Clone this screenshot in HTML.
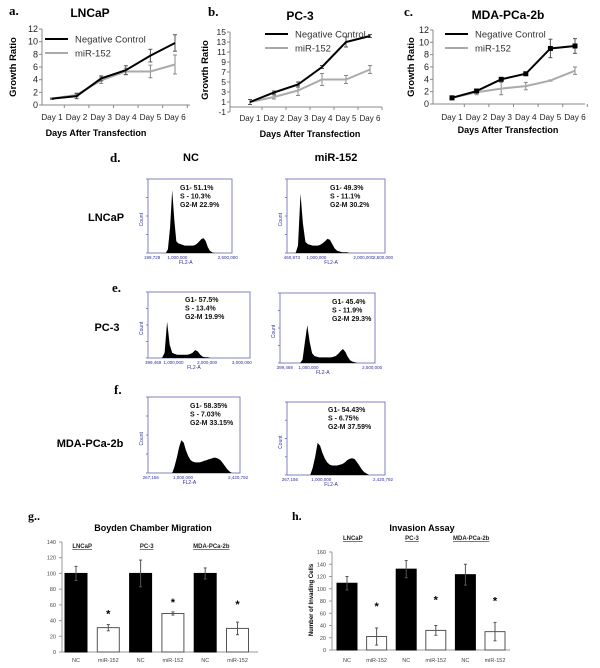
<!DOCTYPE html>
<html><head><meta charset="utf-8">
<style>
body{margin:0;background:#fff;}
svg{display:block;font-family:"Liberation Sans",sans-serif;}
</style></head>
<body>
<svg id="fig" width="600" height="668" viewBox="0 0 600 668" xmlns="http://www.w3.org/2000/svg"></svg>
<script>
// ---------- DATA ----------
const days = ["Day 1","Day 2","Day 3","Day 4","Day 5","Day 6"];
const lncapNC = [1,1.4,4.2,5.5,7.8,9.8];
const lncapNCerr = [0.1,0.4,0.4,0.7,1.0,1.3];
const lncapMiR = [1,1.6,3.9,5.3,5.3,6.4];
const lncapMiRerr = [0.1,0.3,0.5,0.5,1.0,1.5];
const pc3NC = [1,2.9,4.5,8,13,14.2];
const pc3NCerr = [0.5,0.3,0.5,0.3,1.0,0.3];
const pc3MiR = [1,2,3.3,5.5,5.5,7.5];
const pc3MiRerr = [0.5,0.4,1.0,1.2,0.8,0.8];
const mdaNC = [1,2.1,4,4.9,9,9.4];
const mdaNCerr = [0.3,0.3,0.2,0.2,1.5,1.2];
const mdaMiR = [1,1.9,2.5,2.9,3.8,5.4];
const mdaMiRerr = [0.3,0.4,1.0,0.6,0.1,0.6];
const ticksA = [0,2,4,6,8,10,12];
const ticksB = [-1,1,3,5,7,9,11,13,15];
const ticksC = [0,2,4,6,8,10,12];

const histDNC = [0,0,0,0,0,0,0,0,0,0.05,0.35,0.85,0.45,0.16,0.13,0.12,0.11,0.1,0.1,0.1,0.1,0.1,0.11,0.13,0.16,0.19,0.2,0.16,0.08,0.03,0.01,0,0,0,0,0,0,0,0,0];
const histDMiR = [0,0,0,0,0.1,0.8,0.4,0.15,0.12,0.11,0.1,0.1,0.1,0.11,0.13,0.16,0.19,0.18,0.12,0.06,0.03,0.02,0.01,0.01,0.01,0,0,0,0,0,0,0,0,0,0,0,0,0,0,0];
const histENC = [0,0,0,0,0,0,0.08,0.55,0.2,0.08,0.06,0.05,0.05,0.05,0.05,0.05,0.06,0.08,0.12,0.1,0.05,0.02,0.01,0.01,0,0,0,0,0,0,0,0,0,0,0,0,0,0,0,0];
const histEMiR = [0,0,0,0,0,0,0,0,0,0.05,0.3,0.54,0.3,0.14,0.1,0.09,0.08,0.08,0.08,0.08,0.08,0.08,0.09,0.1,0.13,0.17,0.2,0.16,0.09,0.04,0.02,0.01,0,0,0,0,0,0,0,0];
const histFNC = [0,0,0,0,0,0,0,0,0,0,0,0.08,0.2,0.34,0.43,0.4,0.3,0.22,0.17,0.15,0.14,0.14,0.14,0.15,0.16,0.17,0.18,0.19,0.2,0.2,0.19,0.17,0.13,0.09,0.05,0.02,0,0,0,0];
const histFMiR = [0,0,0,0,0,0,0,0,0,0,0.1,0.25,0.44,0.4,0.3,0.22,0.17,0.14,0.13,0.13,0.13,0.14,0.15,0.17,0.2,0.22,0.23,0.22,0.18,0.13,0.08,0.04,0.02,0,0,0,0,0,0,0];

const barCats = ["NC","miR-152","NC","miR-152","NC","miR-152"];
const migVals = [100,31,100,49,100,30];
const migErr = [9,4,17,2,7,8];
const migTicks = [0,20,40,60,80,100,120,140];
const invVals = [109,22,132,32,123,30];
const invErr = [11,14,14,8,17,15];
const invTicks = [0,20,40,60,80,100,120,140,160];
const groups = ["LNCaP","PC-3","MDA-PCa-2b"];

// ---------- HELPERS ----------
const svg = document.getElementById('fig');
const NS = 'http://www.w3.org/2000/svg';
function mk(tag, attrs, parent){
  const el = document.createElementNS(NS, tag);
  for (const k in attrs) el.setAttribute(k, attrs[k]);
  (parent||svg).appendChild(el);
  return el;
}
function txt(s, attrs, parent){
  const el = mk('text', attrs, parent);
  el.textContent = s;
  return el;
}

// ---------- LINE CHARTS ----------
function lineChart(c){
  const g = mk('g', {});
  
  
  const X = i => c.x1 + i*c.step;
  const Y = v => c.y0 - (v - c.base)*c.ppu;
  let t = txt(c.letter, {x:c.lx, y:c.ly, 'font-family':'Liberation Serif,serif','font-weight':'bold','font-size':13}, g);
  
  
  t = txt(c.title, {x:c.tx, y:c.ty, 'text-anchor':'middle','font-weight':'bold','font-size':12}, g);
  
  
  const yTop = Y(c.ticks[c.ticks.length-1]), yBot = Y(c.ticks[0]);
  let a = mk('line', {x1:c.ax, y1:yTop, x2:c.ax, y2:yBot, stroke:'#888','stroke-width':1}, g);
  
  
  a = mk('line', {x1:c.ax, y1:Y(c.xAxisAt), x2:c.ax2, y2:Y(c.xAxisAt), stroke:'#888','stroke-width':1}, g);
  
  
  c.ticks.forEach(v=>{
    mk('line',{x1:c.ax-3,y1:Y(v),x2:c.ax,y2:Y(v),stroke:'#888'},g);
    const tl = txt(String(v), {x:c.ax-4, y:Y(v)+3, 'text-anchor':'end','font-size':c.tfs||9,fill:'#222'}, g);
    
    
  });
  days.forEach((d,i)=>{
    mk('line',{x1:X(i)+c.step/2,y1:Y(c.xAxisAt),x2:X(i)+c.step/2,y2:Y(c.xAxisAt)+3,stroke:'#888'},g);
    const tl = txt(d, {x:X(i), y:c.dayY, 'text-anchor':'middle','font-size':8.5,fill:'#222',textLength:c.step-3,lengthAdjust:'spacingAndGlyphs'}, g);
    
    
  });
  t = txt('Growth Ratio', {x:0,y:0,'font-weight':'bold','font-size':9.5,'text-anchor':'middle',transform:`translate(${c.ylx},${c.yly}) rotate(-90)`}, g);
  
  
  t = txt('Days After Transfection', {x:c.xtx,y:c.xty,'font-weight':'bold','font-size':9,'text-anchor':'middle'}, g);
  
  
  [[c.mir,c.mirErr,'#aaa','mir-152-series'],[c.nc,c.ncErr,'#000','negative-control-series']].forEach(([vals,errs,col,nm])=>{
    const sg = mk('g',{},g);
    
    
    const ec = col==='#000'?'#555':'#888';
    vals.forEach((v,i)=>{
      const e = errs[i];
      mk('line',{x1:X(i),y1:Y(v+e),x2:X(i),y2:Y(v-e),stroke:ec,'stroke-width':1},sg);
      mk('line',{x1:X(i)-2,y1:Y(v+e),x2:X(i)+2,y2:Y(v+e),stroke:ec},sg);
      mk('line',{x1:X(i)-2,y1:Y(v-e),x2:X(i)+2,y2:Y(v-e),stroke:ec},sg);
    });
    const p = mk('polyline',{points:vals.map((v,i)=>X(i)+','+Y(v)).join(' '),fill:'none',stroke:col,'stroke-width':2},sg);
    
    
    if (c.markers && col==='#000') vals.forEach((v,i)=>{
      const m = mk('rect',{x:X(i)-2.5,y:Y(v)-2.5,width:5,height:5,fill:'#000'},sg);
      
      
    });
  });
  const lg = mk('g',{},g);
  
  
  mk('line',{x1:c.legx,y1:c.legy,x2:c.legx+23,y2:c.legy,stroke:'#000','stroke-width':2},lg);
  let le = txt('Negative Control',{x:c.legx+30,y:c.legy+3.5,'font-size':9.5,fill:'#333'},lg);
  
  
  mk('line',{x1:c.legx,y1:c.legy+14,x2:c.legx+23,y2:c.legy+14,stroke:'#aaa','stroke-width':2},lg);
  le = txt('miR-152',{x:c.legx+30,y:c.legy+17.5,'font-size':9.5,fill:'#333'},lg);
  
  
}
lineChart({name:'lncap-growth-chart',letter:'a.',lx:9,ly:15,title:'LNCaP',tx:90,ty:17,x1:52,step:24.6,y0:105,base:0,ppu:6.33,ticks:ticksA,xAxisAt:0,ax:42,ax2:190,dayY:120,ylx:16,yly:67,xtx:96,xty:136,nc:lncapNC,ncErr:lncapNCerr,mir:lncapMiR,mirErr:lncapMiRerr,legx:45,legy:39});
lineChart({name:'pc3-growth-chart',letter:'b.',lx:208,ly:16,title:'PC-3',tx:300,ty:20,x1:250,step:24,y0:107,base:0,ppu:5,ticks:ticksB,xAxisAt:0,ax:230,ax2:382,dayY:121,ylx:208,yly:70,xtx:310,xty:137,nc:pc3NC,ncErr:pc3NCerr,mir:pc3MiR,mirErr:pc3MiRerr,legx:265,legy:34,tfs:8.5});
lineChart({name:'mda-growth-chart',letter:'c.',lx:404,ly:16,title:'MDA-PCa-2b',tx:508,ty:19,x1:452,step:24.6,y0:104,base:0,ppu:6.17,ticks:ticksC,xAxisAt:0,ax:433,ax2:585,dayY:120,ylx:414,yly:67,xtx:508,xty:133,nc:mdaNC,ncErr:mdaNCerr,mir:mdaMiR,mirErr:mdaMiRerr,legx:445,legy:34,markers:true});

// ---------- FLOW HISTOGRAMS ----------
function flow(h){
  const g = mk('g',{});
  
  
  const w = h.r - h.l, ht = h.b - h.t;
  const fr = mk('rect',{x:h.l,y:h.t,width:w,height:ht,fill:'#fff',stroke:'#8080c0','stroke-width':1},g);
  
  
  const n = h.data.length, bw = w/n;
  let d = `M${h.l},${h.b}`;
  h.data.forEach((v,i)=>{ const x = h.l + (i+0.5)*bw; d += ` L${x.toFixed(1)},${(h.b - v*ht).toFixed(1)}`; });
  d += ` L${h.r},${h.b} Z`;
  const p = mk('path',{d,fill:'#000'},g);
  
  
  h.lines.forEach((s,i)=>{
    const t = txt(s,{x:h.tx,y:h.ty+i*8.5,'font-size':7,'font-weight':'bold',fill:'#111'},g);
    
    
  });
  h.xl.forEach(([f,s])=>{
    const t = txt(s,{x:h.l+f*w,y:h.b+6,'font-size':4.5,fill:'#3030a0','text-anchor':'middle'},g);
    
    
  });
  let t = txt('FL2-A',{x:h.l+w*0.45,y:h.b+11,'font-size':5,fill:'#3030a0','text-anchor':'middle'},g);
  
  
  t = txt('Count',{x:0,y:0,'font-size':5,fill:'#3030a0','text-anchor':'middle',transform:`translate(${h.l-5},${h.t+ht*0.55}) rotate(-90)`},g);
  
  
  for(let i=0;i<=4;i++) mk('line',{x1:h.l-2,y1:h.b-i*ht/4,x2:h.l,y2:h.b-i*ht/4,stroke:'#8080c0'},g);
}
function label(s,x,y,attrs,name){
  const t = txt(s,Object.assign({x,y,'font-weight':'bold','font-size':11},attrs||{}));
  
  
}
label('d.',110,162,{'font-family':'Liberation Serif,serif','font-size':13},'panel-letter-d');
label('NC',191,161,{'text-anchor':'middle'},'column-label-nc');
label('miR-152',336,161,{'text-anchor':'middle'},'column-label-mir-152');
label('LNCaP',106,221,{'text-anchor':'middle'},'row-label-lncap');
label('e.',112,292,{'font-family':'Liberation Serif,serif','font-size':13},'panel-letter-e');
label('PC-3',107,331,{'text-anchor':'middle'},'row-label-pc3');
label('f.',114,394,{'font-family':'Liberation Serif,serif','font-size':13},'panel-letter-f');
label('MDA-PCa-2b',90,447,{'text-anchor':'middle'},'row-label-mda');

flow({name:'lncap-nc-histogram',l:148,t:179,r:232,b:253,data:histDNC,tx:180,ty:190,lines:['G1- 51.1%','S -  10.3%','G2-M  22.9%'],xl:[[0.05,'199,729'],[0.35,'1,000,000'],[0.95,'2,500,000']]});
flow({name:'lncap-mir-histogram',l:287,t:179,r:385,b:253,data:histDMiR,tx:330,ty:190,lines:['G1- 49.3%','S -  11.1%','G2-M  30.2%'],xl:[[0.05,'460,973'],[0.3,'1,000,000'],[0.78,'2,000,000'],[0.98,'2,500,000']]});
flow({name:'pc3-nc-histogram',l:148,t:292,r:250,b:358,data:histENC,tx:185,ty:302,lines:['G1- 57.5%','S -  13.4%','G2-M  19.9%'],xl:[[0.05,'399,469'],[0.25,'1,000,000'],[0.58,'2,000,000'],[0.92,'3,000,000']]});
flow({name:'pc3-mir-histogram',l:280,t:293,r:375,b:363,data:histEMiR,tx:332,ty:304,lines:['G1- 45.4%','S -  11.9%','G2-M  29.3%'],xl:[[0.05,'399,469'],[0.3,'1,000,000'],[0.97,'2,500,000']]});
flow({name:'mda-nc-histogram',l:148,t:397,r:240,b:473,data:histFNC,tx:190,ty:408,lines:['G1- 58.35%','S -  7.03%','G2-M  33.15%'],xl:[[0.03,'267,156'],[0.38,'1,000,000'],[0.98,'2,420,792']]});
flow({name:'mda-mir-histogram',l:287,t:402,r:385,b:475,data:histFMiR,tx:328,ty:412,lines:['G1- 54.43%','S -  6.75%','G2-M  37.59%'],xl:[[0.03,'267,156'],[0.35,'1,000,000'],[0.98,'2,420,792']]});

// ---------- BAR CHARTS ----------
function barChart(c){
  const g = mk('g',{});
  
  
  const Y = v => c.y0 - v*c.ppu;
  const X = i => c.x1 + i*c.step;
  let t = txt(c.letter,{x:c.lx,y:c.ly,'font-family':'Liberation Serif,serif','font-weight':'bold','font-size':12},g);
  
  
  t = txt(c.title,{x:c.tx,y:c.ty,'text-anchor':'middle','font-weight':'bold','font-size':9},g);
  
  
  const top = c.ticks[c.ticks.length-1];
  mk('line',{x1:c.ax,y1:Y(top),x2:c.ax,y2:Y(0),stroke:'#999'},g);
  mk('line',{x1:c.ax,y1:Y(0),x2:c.ax2,y2:Y(0),stroke:'#999'},g);
  c.ticks.forEach(v=>{
    mk('line',{x1:c.ax-3,y1:Y(v),x2:c.ax,y2:Y(v),stroke:'#999'},g);
    const tl = txt(String(v),{x:c.ax-6,y:Y(v)+2,'text-anchor':'end','font-size':5.5,fill:'#444'},g);
    
    
  });
  c.vals.forEach((v,i)=>{
    const nc = i%2===0;
    const b = mk('rect',{x:X(i)-c.bw/2,y:Y(v),width:c.bw,height:Y(0)-Y(v),fill:nc?'#000':'#fff',stroke:nc?'#000':'#555','stroke-width':1},g);
    
    
    const e = c.errs[i];
    mk('line',{x1:X(i),y1:Y(v+e),x2:X(i),y2:Y(v-e),stroke:'#555'},g);
    mk('line',{x1:X(i)-1.5,y1:Y(v+e),x2:X(i)+1.5,y2:Y(v+e),stroke:'#555'},g);
    mk('line',{x1:X(i)-1.5,y1:Y(v-e),x2:X(i)+1.5,y2:Y(v-e),stroke:'#555'},g);
    if(!nc){
      const s = txt('*',{x:X(i),y:Y(v+e)+(c.ast[i>>1]),'text-anchor':'middle','font-size':11,'font-weight':'bold'},g);
      
      
    }
    const xl = txt(barCats[i],{x:X(i),y:c.catY,'text-anchor':'middle','font-size':5.5,fill:'#444'},g);
    
    
  });
  groups.forEach((s,k)=>{
    const gx = (X(2*k)+X(2*k+1))/2 + c.goff;
    const gl = txt(s,{x:gx,y:c.gy,'text-anchor':'middle','font-size':6,'font-weight':'bold','text-decoration':'underline',fill:'#222'},g);
    
    
  });
  if(c.ytitle){
    t = txt(c.ytitle,{x:0,y:0,'text-anchor':'middle','font-size':6,'font-weight':'bold',transform:`translate(${c.ylx},${c.yly}) rotate(-90)`},g);
    
    
  }
}
barChart({name:'migration-bar-chart',letter:'g..',lx:28,ly:520,title:'Boyden Chamber Migration',tx:153,ty:531,y0:652,ppu:110/140,x1:76,step:32.3,bw:22,ax:62,ax2:258,ticks:migTicks,vals:migVals,errs:migErr,ast:[-7,-6,-14],catY:662,gy:548,goff:-10,ytitle:null});
barChart({name:'invasion-bar-chart',letter:'h.',lx:292,ly:520,title:'Invasion Assay',tx:422,ty:531,y0:650,ppu:98/160,x1:347,step:29.6,bw:20,ax:332,ax2:510,ticks:invTicks,vals:invVals,errs:invErr,ast:[-18,-22,-18],catY:662,gy:540,goff:-9,ytitle:'Number of Invading Cells',ylx:313,yly:600});
</script>
</body></html>
